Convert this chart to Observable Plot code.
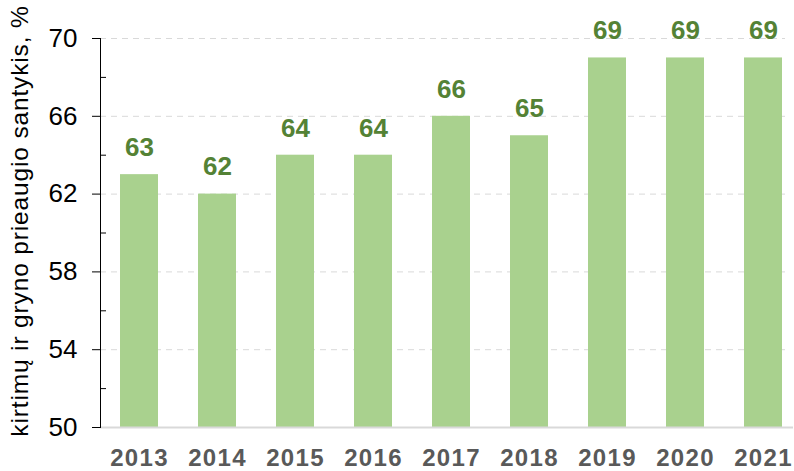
<!DOCTYPE html>
<html>
<head>
<meta charset="utf-8">
<script src="https://cdn.jsdelivr.net/npm/d3@7"></script>
<script src="https://cdn.jsdelivr.net/npm/@observablehq/plot@0.6"></script>
<style>
  html, body { margin: 0; padding: 0; background: #fff; }
  #chart svg { display: block; }
</style>
</head>
<body>
<div id="chart"></div>
<script>
const years = ["2013", "2014", "2015", "2016", "2017", "2018", "2019", "2020", "2021"];
const values = [63, 62, 64, 64, 66, 65, 69, 69, 69];
const majorTicks = [50, 54, 58, 62, 66, 70];
const minorTicks = [52, 56, 60, 64, 68];
const gridTicks = [54, 58, 62, 66, 70];
const yTitle = "kirtimų ir gryno prieaugio santykis, %";

const data = years.map((year, i) => ({year, value: values[i]}));

const W = 794, H = 471;
const mL = 100, mR = 1, mT = 38, mB = 44;
const frameW = W - mL - mR;

const plot = Plot.plot({
  width: W,
  height: H,
  marginLeft: mL,
  marginRight: mR,
  marginTop: mT,
  marginBottom: mB,
  style: {fontFamily: "Liberation Sans, Arial, sans-serif", background: "#fff", overflow: "visible", color: "#000"},
  x: {type: "band", domain: years, range: [100, 802], paddingInner: 0.51, paddingOuter: 0.255},
  y: {domain: [50, 70]},
  marks: [
    Plot.ruleY(gridTicks, {stroke: "#d9d9d9", strokeWidth: 1, strokeDasharray: "6,5", insetRight: 8}),
    Plot.barY(data, {x: "year", y1: 50, y2: "value", fill: "#a9d18e"}),
    Plot.ruleY([50], {stroke: "#d9d9d9", strokeWidth: 2}),
    Plot.ruleY(minorTicks, {stroke: "#000", strokeWidth: 1, insetRight: frameW - 6}),
    Plot.frame({anchor: "left", stroke: "#000", strokeWidth: 1}),
    Plot.axisY({
      ticks: majorTicks,
      tickSize: 8,
      tickPadding: 15,
      fontSize: 26,
      stroke: "#000",
      strokeOpacity: 1,
      fill: "#000",
      label: null
    }),
    Plot.axisX({
      tickSize: 0,
      tickPadding: 21,
      fontSize: 24,
      fontWeight: "bold",
      fill: "#595959",
      label: null
    }),
    Plot.text(data, {
      x: "year", y: "value", text: d => String(d.value),
      dy: -27, fontSize: 26, fontWeight: "bold", fill: "#548235",
      lineAnchor: "middle", textAnchor: "middle"
    }),
    Plot.text([yTitle], {
      frameAnchor: "left", rotate: -90, dx: -80, dy: -12,
      fontSize: 24.5, fill: "#000", textAnchor: "middle", lineAnchor: "middle",
      text: d => d
    })
  ]
});
d3.select(plot).selectAll("text").each(function() {
  const t = this.textContent;
  if (t === yTitle) this.style.letterSpacing = "0.85px";
  else if (years.includes(t)) this.style.letterSpacing = "1.3px";
});
document.getElementById("chart").appendChild(plot);
</script>
</body>
</html>
